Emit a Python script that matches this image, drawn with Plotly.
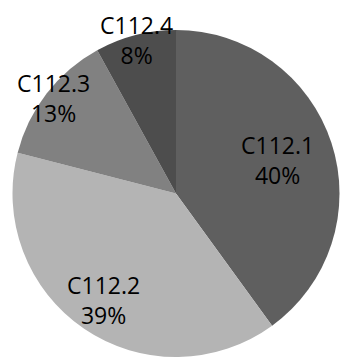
import math
import plotly.graph_objects as go

labels = ["C112.1", "C112.2", "C112.3", "C112.4"]
values = [40, 39, 13, 8]
colors = ["#5f5f5f", "#b4b4b4", "#818181", "#4d4d4d"]
label_radius = [0.655, 0.785, 0.95, 0.97]  # fraction of pie radius for label placement

W, H = 342, 359
cx, cy, R = 176, 193.5, 163.5  # pie centre/radius in px (layout)

fig = go.Figure(go.Pie(
    labels=labels, values=values, sort=False, direction="clockwise", rotation=0,
    marker=dict(colors=colors, line=dict(width=0)),
    textinfo="none", hoverinfo="label+percent", showlegend=False,
    domain=dict(x=[(cx - R) / W, (cx + R) / W], y=[(H - cy - R) / H, (H - cy + R) / H]),
))

total = sum(values)
cum = 0
annotations = []
for lab, v, rf in zip(labels, values, label_radius):
    mid = (cum + v / 2) / total * 2 * math.pi
    cum += v
    px = cx + rf * R * math.sin(mid)
    py = cy - rf * R * math.cos(mid)
    pct = round(v / total * 100)
    annotations.append(dict(
        x=px / W, y=1 - py / H, xref="paper", yref="paper",
        text=f"{lab}<br>{pct}%", showarrow=False, xanchor="center", yanchor="middle",
        font=dict(family="Open Sans", size=23, color="#000000"),
    ))

fig.update_layout(
    width=W, height=H, margin=dict(l=0, r=0, t=0, b=0),
    paper_bgcolor="white", plot_bgcolor="white",
    annotations=annotations,
)
fig.write_html("out.html")
